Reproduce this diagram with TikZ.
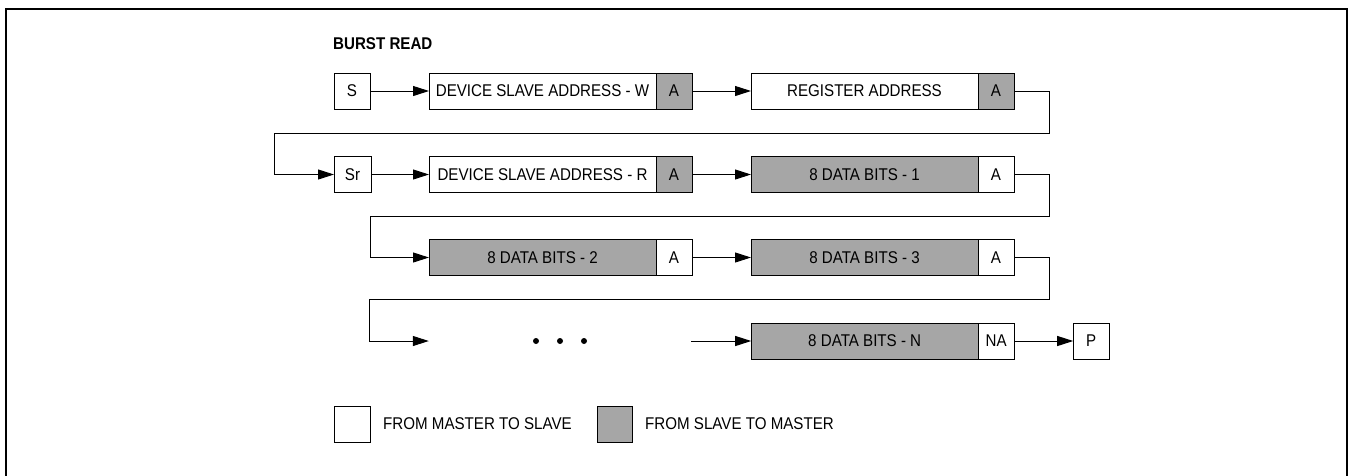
\documentclass[tikz,border=0pt]{standalone}
\usepackage{fontspec}
\setmainfont{Liberation Sans}[FakeStretch=0.89]
\usetikzlibrary{arrows.meta}
\usetikzlibrary{positioning}
\definecolor{slavegray}{RGB}{166,166,166}
\tikzset{flow/.style = {-{Triangle[length=16pt, width=10pt]}, line width=1pt}}
\tikzset{mbox/.style = {draw, fill=white, line width=1pt, inner sep=0, outer sep=0,
                        minimum height=36pt}}
\tikzset{sbox/.style = {mbox, fill=slavegray}}
\tikzset{field/.style = {minimum width=227pt}}
\tikzset{ack/.style = {minimum width=36pt}}

\begin{document}
\begin{tikzpicture}[x=1pt, y=-1pt, font=\fontsize{17}{20}\selectfont]
    \clip (0,0) rectangle (1351,475);
    \draw [line width=2.5pt] (6,9) rectangle (1347,500);
    \node [anchor=west, inner sep=0, font=\fontsize{17}{20}\selectfont\bfseries] (title)
      at (333,44) {BURST READ};

    % write phase
    \node [mbox, ack] (start) at (352,91) {S};
    \node [mbox, field, right=59pt of start] (devw) {DEVICE SLAVE ADDRESS - W};
    \node [sbox, ack, right=0pt of devw] (ackw) {A};
    \node [mbox, field, right=59pt of ackw] (regaddr) {REGISTER ADDRESS};
    \node [sbox, ack, right=0pt of regaddr] (ackreg) {A};

    % read phase
    \node [mbox, minimum width=37pt] (restart) at (352.5,174.5) {Sr};
    \node [mbox, field, right=58pt of restart] (devr) {DEVICE SLAVE ADDRESS - R};
    \node [sbox, ack, right=0pt of devr] (ackr) {A};
    \node [sbox, field, right=59pt of ackr] (data1) {8 DATA BITS - 1};
    \node [mbox, ack, right=0pt of data1] (ack1) {A};

    \node [sbox, field] (data2) at (542.5,257.5) {8 DATA BITS - 2};
    \node [mbox, ack, right=0pt of data2] (ack2) {A};
    \node [sbox, field, right=59pt of ack2] (data3) {8 DATA BITS - 3};
    \node [mbox, ack, right=0pt of data3] (ack3) {A};

    \node [minimum width=262pt, minimum height=36pt, inner sep=0] (dots) at (560,341) {};
    \foreach \dx in {-24,0,24} {
      \fill ([xshift=\dx pt]dots.center) circle [radius=3pt];
    }
    \node [sbox, field, right=60pt of dots] (datan) {8 DATA BITS - N};
    \node [mbox, ack, right=0pt of datan] (nack) {NA};
    \node [mbox, ack, right=59pt of nack] (stop) {P};

    \draw [flow] (start) -- (devw);
    \draw [flow] (ackw) -- (regaddr);
    \draw [flow] (restart) -- (devr);
    \draw [flow] (ackr) -- (data1);
    \draw [flow] (ack2) -- (data3);
    \draw [flow] (dots) -- (datan);
    \draw [flow] (nack) -- (stop);

    % wrap to next row
    \coordinate (wrapa) at (1049,133);
    \coordinate (wrapb) at (1049,216);
    \coordinate (wrapc) at (1049,299);
    \draw [flow] (ackreg.east) -| (wrapa) -| ([xshift=-60pt]restart.west) -- (restart.west);
    \draw [flow] (ack1.east) -| (wrapb) -| ([xshift=-59pt]data2.west) -- (data2.west);
    \draw [flow] (ack3.east) -| (wrapc) -| ([xshift=-59pt]dots.west) -- (dots.west);

    % legend
    \node [mbox, ack] (keymaster) at (352,424) {};
    \node [inner sep=0, right=13pt of keymaster] (keymastertext) {FROM MASTER TO SLAVE};
    \node [sbox, minimum width=35pt] (keyslave) at (614.5,424) {};
    \node [inner sep=0, right=13pt of keyslave] (keyslavetext) {FROM SLAVE TO MASTER};
\end{tikzpicture}
\end{document}
